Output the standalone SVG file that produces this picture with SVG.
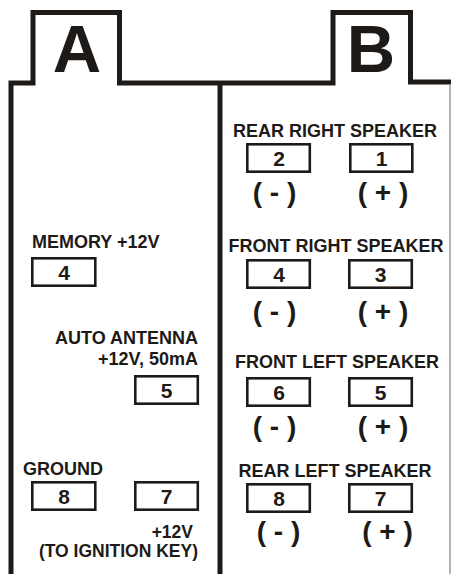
<svg xmlns="http://www.w3.org/2000/svg" width="451" height="574" viewBox="0 0 451 574">
<style>
text{font-family:"Liberation Sans",Arial,sans-serif;font-weight:bold;fill:#1e1a17}
.lbl{font-size:18px}
.sm{font-size:17.5px}
.num{font-size:21px;text-anchor:middle}
.pol{font-size:28px;text-anchor:middle}
.box{fill:#fff;stroke:#1e1a17;stroke-width:2.6}
.big{font-size:67px;text-anchor:middle}
</style>
<rect width="451" height="574" fill="#fff"/>
<g id="frame">
<path d="M11,574 V83 H33 V12.5 H119.5 V83 H220 H333 V12.5 H410.5 V82 H451" fill="none" stroke="#1e1a17" stroke-width="5"/>
<line x1="220" y1="83" x2="220" y2="574" stroke="#1e1a17" stroke-width="5"/>
<line x1="450" y1="84" x2="450" y2="574" stroke="#9a9a9a" stroke-width="1.5"/>
<text class="big" x="77" y="72">A</text>
<text class="big" x="371" y="72">B</text>
</g>
<g id="a-memory">
<text class="lbl" x="32" y="248">MEMORY +12V</text>
<rect class="box" x="32.3" y="258.3" width="63" height="27.4"/>
<text class="num" x="64" y="280">4</text>
</g>
<g id="a-antenna">
<text class="lbl" x="198" y="344" text-anchor="end">AUTO ANTENNA</text>
<text class="lbl" x="198" y="365" text-anchor="end">+12V, 50mA</text>
<rect class="box" x="135.3" y="376.3" width="62.5" height="27.4"/>
<text class="num" x="166.5" y="398">5</text>
</g>
<g id="a-ground">
<text class="lbl" x="23" y="475">GROUND</text>
<rect class="box" x="32.3" y="482.3" width="63" height="27.4"/>
<text class="num" x="64" y="504">8</text>
</g>
<g id="a-ignition">
<rect class="box" x="135.3" y="482.3" width="62.5" height="27.4"/>
<text class="num" x="166.5" y="504">7</text>
<text class="sm" x="193" y="538" text-anchor="end">+12V</text>
<text class="sm" x="198" y="557" text-anchor="end">(TO IGNITION KEY)</text>
</g>
<g id="b-rear-right">
<text class="lbl" x="335" y="137" text-anchor="middle">REAR RIGHT SPEAKER</text>
<rect class="box" x="247.3" y="144.3" width="62.5" height="27.4"/>
<text class="num" x="279" y="166">2</text>
<rect class="box" x="350.3" y="144.3" width="62" height="27.4"/>
<text class="num" x="381.5" y="166">1</text>
<text class="pol" x="274.5" y="202">( - )</text>
<text class="pol" x="383" y="202">( + )</text>
</g>
<g id="b-front-right">
<text class="lbl" x="336" y="252" text-anchor="middle">FRONT RIGHT SPEAKER</text>
<rect class="box" x="247.3" y="260.3" width="62.5" height="27.4"/>
<text class="num" x="279" y="282">4</text>
<rect class="box" x="349.3" y="260.3" width="62.5" height="27.4"/>
<text class="num" x="380.5" y="282">3</text>
<text class="pol" x="274.5" y="321">( - )</text>
<text class="pol" x="383" y="321">( + )</text>
</g>
<g id="b-front-left">
<text class="lbl" x="337" y="368" text-anchor="middle">FRONT LEFT SPEAKER</text>
<rect class="box" x="247.3" y="378.3" width="62.5" height="27.4"/>
<text class="num" x="279" y="400">6</text>
<rect class="box" x="349.3" y="378.3" width="62.5" height="27.4"/>
<text class="num" x="380.5" y="400">5</text>
<text class="pol" x="274.5" y="436">( - )</text>
<text class="pol" x="383" y="436">( + )</text>
</g>
<g id="b-rear-left">
<text class="lbl" x="335" y="477" text-anchor="middle">REAR LEFT SPEAKER</text>
<rect class="box" x="247.3" y="484.3" width="62.5" height="27.4"/>
<text class="num" x="279" y="506">8</text>
<rect class="box" x="349.3" y="484.3" width="62.5" height="27.4"/>
<text class="num" x="380.5" y="506">7</text>
<text class="pol" x="278.5" y="541">( - )</text>
<text class="pol" x="387.5" y="541">( + )</text>
</g>
</svg>
